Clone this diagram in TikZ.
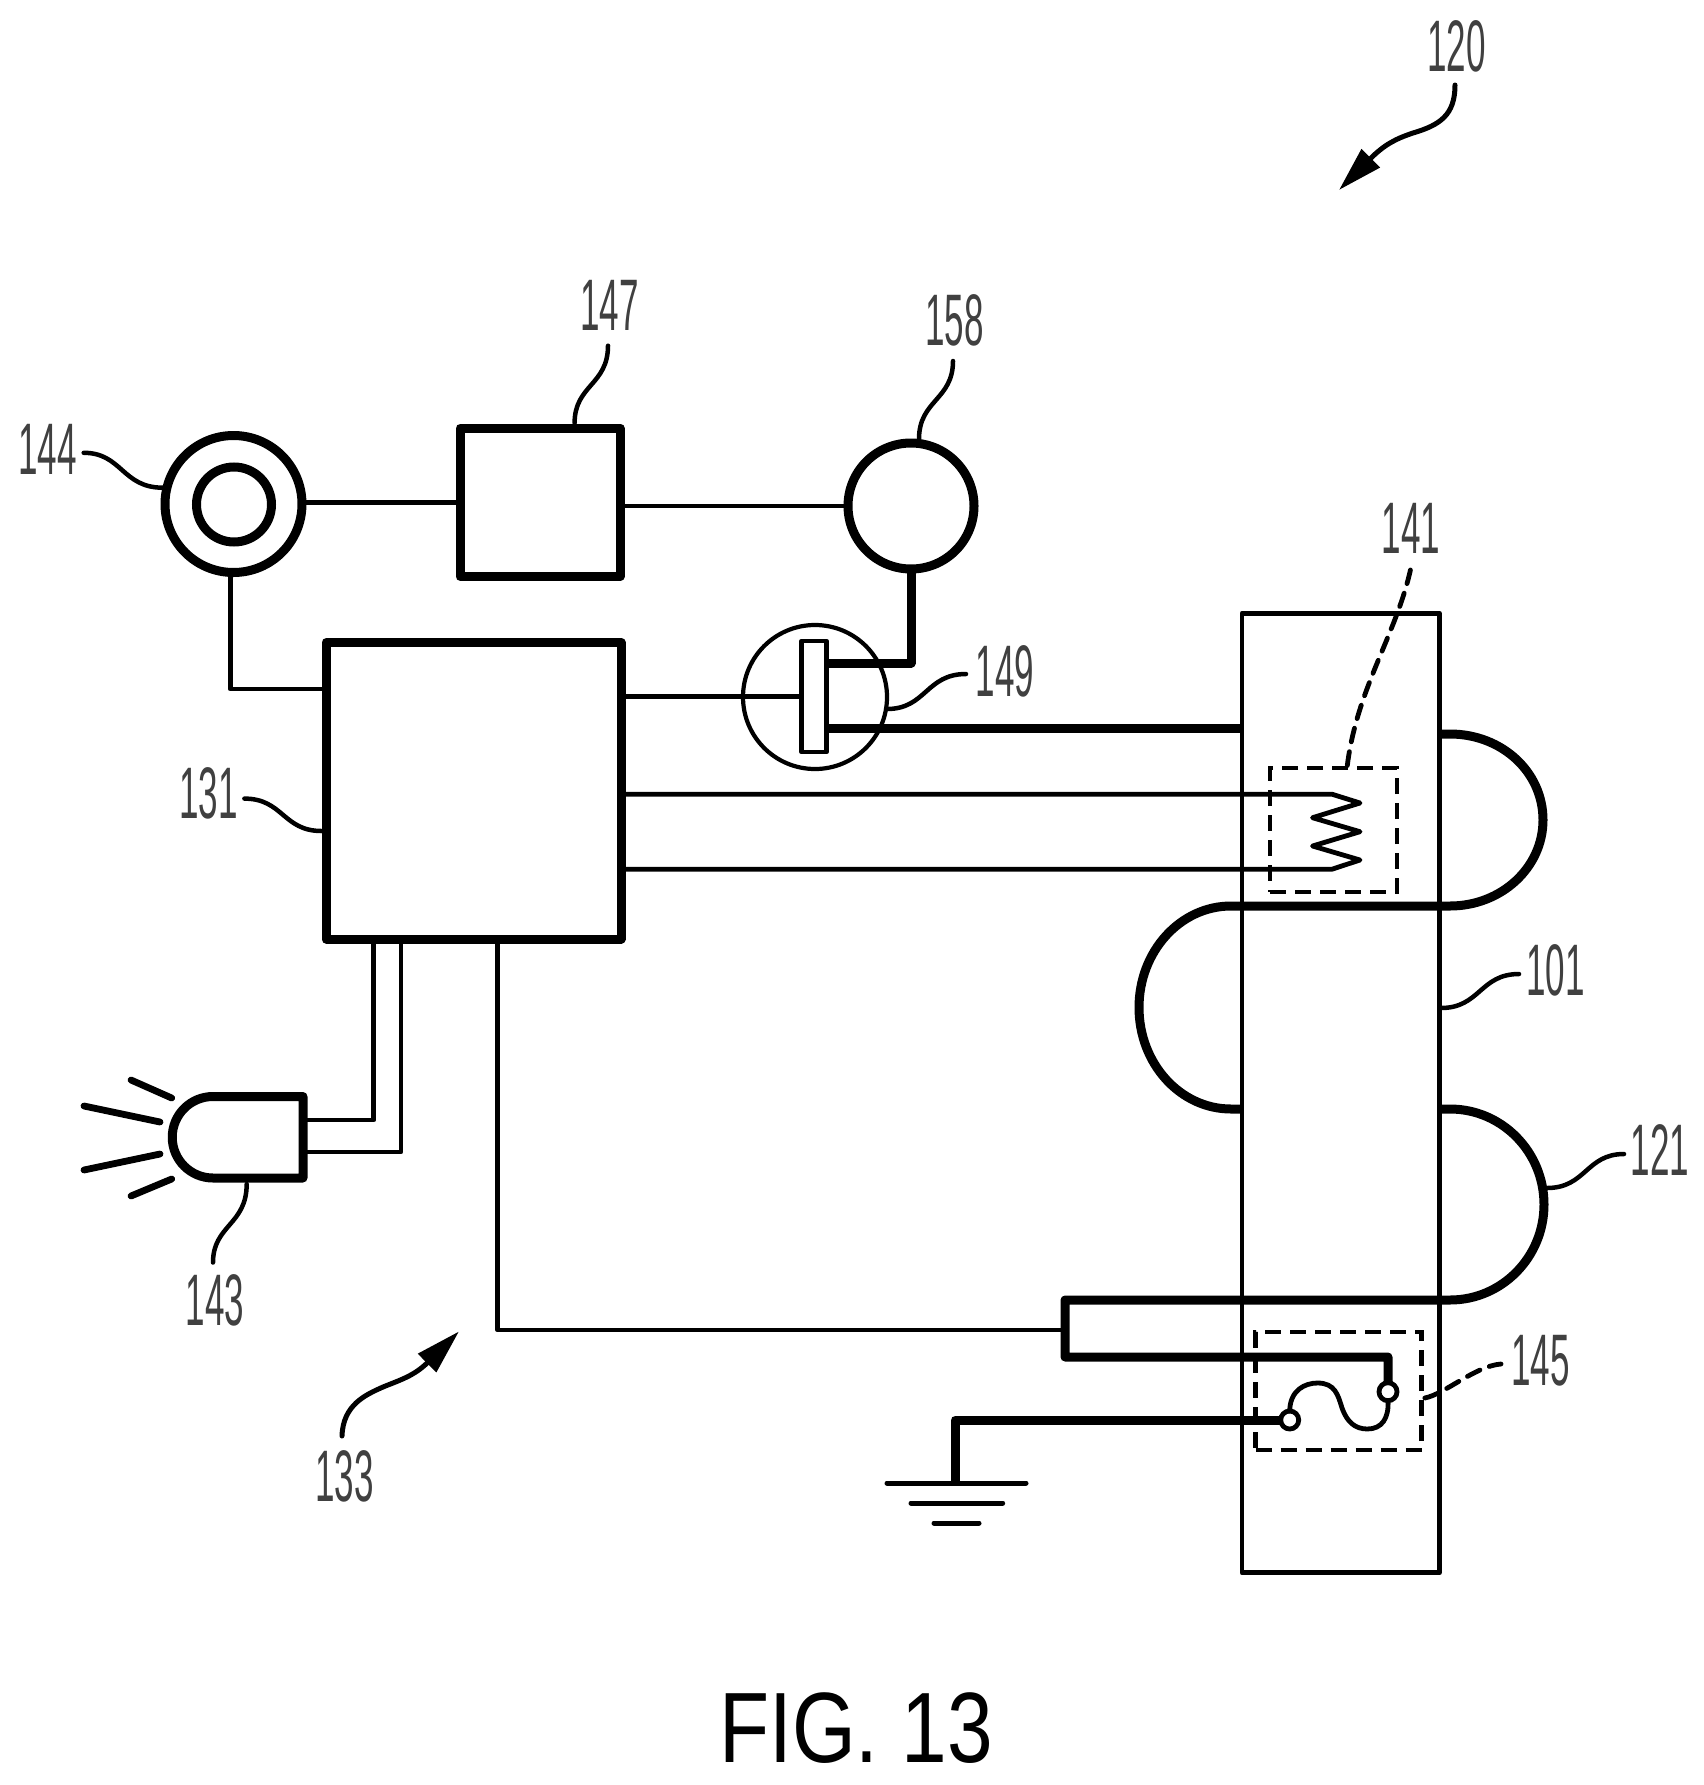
\documentclass[tikz,border=0pt]{standalone}
\usepackage{fontspec}
\usepackage{graphicx}
\setmainfont{Liberation Sans}
\usetikzlibrary{arrows.meta}
\newcommand{\numlab}[1]{\scalebox{0.48}[1]{#1}}
\tikzset{
  thinw/.style={line width=4.8pt,line join=round},
  thickw/.style={line width=9pt,line join=round},
  leader/.style={line width=4.5pt,line cap=round},
  dashleader/.style={line width=4.8pt,line cap=round,dash pattern=on 14pt off 10pt},
  ray/.style={line width=6.8pt,line cap=round},
  heavybox/.style={draw,rectangle,line width=9pt,line join=round,inner sep=0pt,outer sep=0pt,fill=white},
  thinbox/.style={draw,rectangle,line width=4.8pt,line join=round,inner sep=0pt,outer sep=0pt},
  dashbox/.style={draw,rectangle,line width=4.8pt,dash pattern=on 16pt off 9pt,inner sep=0pt,outer sep=0pt},
  ring/.style={draw,circle,line width=9pt,inner sep=0pt,outer sep=0pt},
  term/.style={draw,circle,line width=4.8pt,inner sep=0pt,outer sep=0pt,fill=white,minimum size=18pt},
  num/.style={inner sep=0pt,outer sep=0pt,text=black!75,font=\fontsize{73}{73}\selectfont},
  big/.style={inner sep=0pt,outer sep=0pt,font=\fontsize{100}{100}\selectfont},
  headed/.style={line width=5pt,line cap=round,-{Triangle[length=45pt,width=25pt]}}
}
\begin{document}
\begin{tikzpicture}[x=1pt,y=-1pt]
\useasboundingbox (0,0) rectangle (1704,1785);
% main nodes
\node[thinbox,minimum width=197.5pt,minimum height=959.7pt] (sub) at (1340.75,1093) {};
\node[ring,minimum size=137pt] (outer) at (233.5,504) {};
\node[ring,minimum size=75pt] (inner) at (234,504.5) {};
\node[heavybox,minimum width=160pt,minimum height=148.5pt] (ctl) at (540,502.25) {};
\node[ring,minimum size=126pt] (pump) at (911,506) {};
\node[heavybox,minimum width=295pt,minimum height=296.5pt] (main) at (473.5,790.75) {};
\node[draw,circle,line width=4.2pt,inner sep=0pt,outer sep=0pt,minimum size=144pt] (valve) at (815,697) {};
\node[dashbox,minimum width=127pt,minimum height=124pt] (heat) at (1333.5,830) {};
\node[dashbox,minimum width=166pt,minimum height=118pt] (fuse) at (1338.6,1391) {};
% coordinates
\coordinate (t144) at (230.4,689);
\coordinate (gatetop) at (826.5,663);
\coordinate (gatebot) at (826.5,728.7);
\coordinate (wallA) at (1242,728.7);
\coordinate (h1) at (1332,794.2);
\coordinate (h2) at (1332,869.2);
\coordinate (l1) at (303,1120);
\coordinate (l2) at (303,1152);
\coordinate (m1) at (373.7,939);
\coordinate (m2) at (401,939);
\coordinate (m3) at (497.7,939);
\coordinate (fork) at (1065,1330);
\coordinate (ground) at (955,1483);
% thin wires
\draw[thinw] (outer.east |- ctl.west) -- (ctl.west);
\draw[thinw] (ctl.east |- pump.west) -- (pump.west);
\draw[thinw] (t144 |- outer.south) -- (t144) -- (t144 -| main.west);
\draw[thinw] (main.east |- h1) -- (h1) -- (1360,803) -- (1312.5,817.7) -- (1360,831.7) -- (1312.5,846) -- (1360,860) -- (h2) -- (main.east |- h2);
\draw[thinw] (l1) -| (m1);
\draw[thinw] (l2) -| (m2);
\draw[thinw] (m3) |- (fork);
% thick wires
\node[term] (t2) at (1388,1391.7) {};
\node[term] (t1) at (1289.7,1420) {};
\draw[thickw] (pump.south) |- (gatetop);
\draw[thickw] (gatebot) -- (wallA);
\draw[thickw] (1440,734) -- (1450,734) .. controls (1501.4,734) and (1543,771.5) .. (1543,820) .. controls (1543,867.5) and (1501.4,906) .. (1450,906) -- (1231,906) .. controls (1180.2,906) and (1139,951.4) .. (1139,1007.5) .. controls (1139,1063.6) and (1180.2,1109) .. (1231,1109) -- (1242,1109);
\draw[thickw] (1440,1109) -- (1450,1109) .. controls (1501.9,1109) and (1544,1151.8) .. (1544,1204.5) .. controls (1544,1257.2) and (1501.9,1300) .. (1450,1300) -- (1065,1300) -- (1065,1357) -- (t2.north |- 0,1357) -- (t2.north);
\draw[thickw] (t1.west) -- (955,1420) -- (ground);
\draw[thinw,line cap=round] (t1.north) .. controls (1290,1390) and (1305,1383) .. (1317.6,1383) .. controls (1335,1383) and (1338,1395) .. (1342,1408) .. controls (1347,1422) and (1355,1429) .. (1367.4,1429) .. controls (1382,1429) and (1389,1418) .. (t2.south);
% valve bar over circle
\node[thinbox,fill=white,minimum width=25pt,minimum height=111pt] (gate) at (814,696.5) {};
\draw[thinw] (main.east |- gate.west) -- (gate.west);
% ground
\draw[line width=5pt,line cap=round] (887,1483) -- (ground) -- (1026,1483);
\draw[line width=5pt,line cap=round] (911,1503) -- (1002.7,1503);
\draw[line width=5pt,line cap=round] (934,1523) -- (979,1523);
% LED
\draw[thickw,fill=white] (303,1096.5) -- (213,1096.5) .. controls (190.5,1096.5) and (172.25,1114.7) .. (172.25,1137.25) .. controls (172.25,1159.8) and (190.5,1178) .. (213,1178) -- (303,1178) -- cycle;
\draw[ray] (131,1080) -- (171.7,1098);
\draw[ray] (84,1106) -- (160,1122);
\draw[ray] (84,1170) -- (160,1154);
\draw[ray] (131,1196) -- (171.7,1179);
% labels
\node[num] (n120) at (1456.5,46.4) {\numlab{120}};
\node[num] (n147) at (609.5,305) {\numlab{147}};
\node[num] (n158) at (954.5,320) {\numlab{158}};
\node[num] (n144) at (47.5,449) {\numlab{144}};
\node[num] (n131) at (208.5,793) {\numlab{131}};
\node[num] (n149) at (1005,671) {\numlab{149}};
\node[num] (n141) at (1411,528) {\numlab{141}};
\node[num] (n101) at (1555.5,970) {\numlab{101}};
\node[num] (n121) at (1660,1150) {\numlab{121}};
\node[num] (n145) at (1540.5,1361) {\numlab{145}};
\node[num] (n143) at (215,1300) {\numlab{143}};
\node[num] (n133) at (344.7,1476) {\numlab{133}};
\node[big] (fig) at (856,1728) {\scalebox{0.82}[1]{FIG. 13}};
% leaders
\draw[leader] (83.7,452.8) .. controls (122,452.8) and (122,487.7) .. (162.7,487.7);
\draw[leader] (608,345.7) .. controls (608,385) and (574.6,385) .. (574.6,423);
\draw[leader] (953,361) .. controls (953,400) and (919,400) .. (919,439);
\draw[leader] (244.4,798.6) .. controls (283,798.6) and (283,831) .. (321.4,831);
\draw[leader] (966,674) .. controls (926,674) and (926,709) .. (887,709);
\draw[leader] (1441,1008) .. controls (1480,1008) and (1480,974) .. (1519,974);
\draw[leader] (1547,1188) .. controls (1586,1188) and (1586,1154) .. (1624,1154);
\draw[leader] (246.7,1184) .. controls (246.7,1225) and (213,1225) .. (213,1262.5);
\draw[dashleader] (1410.4,570) .. controls (1396,635) and (1356,690) .. (1347,768);
\draw[dashleader] (1424.8,1398) .. controls (1445,1394) and (1475,1366) .. (1501,1364);
% headed leaders
\draw[headed] (1455,85) .. controls (1455,115) and (1440,125) .. (1413,133) .. controls (1395,139) and (1384,145) .. (1339,190);
\draw[headed] (342,1436) .. controls (343,1405) and (365,1395) .. (383,1387) .. controls (400,1380) and (414,1376) .. (459,1331.4);
\end{tikzpicture}
\end{document}
